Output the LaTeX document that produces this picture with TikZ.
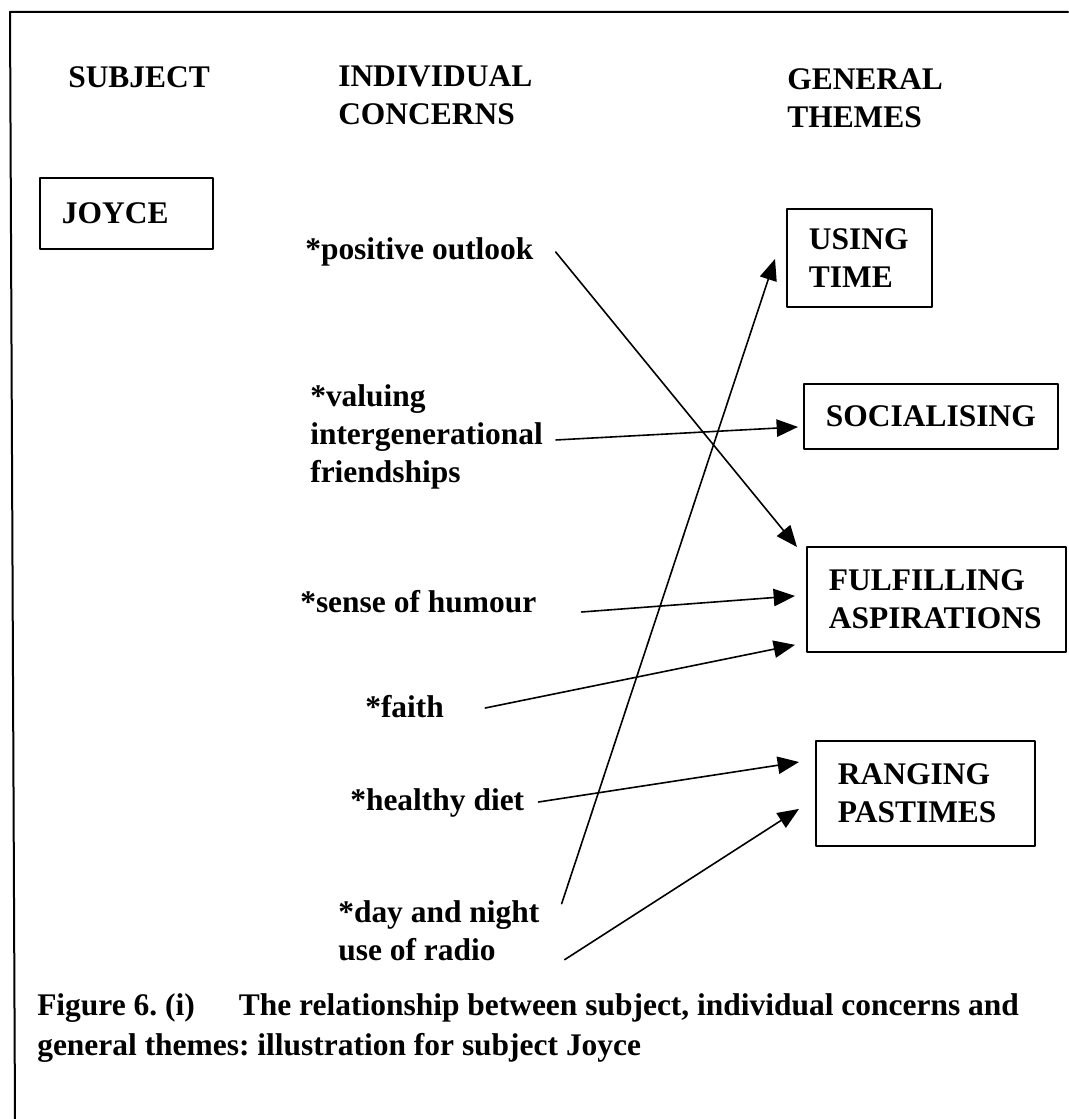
\documentclass[tikz,border=0pt]{standalone}
\usepackage{fontspec}
\setmainfont{Liberation Serif}
\usepackage{tikz}
\usetikzlibrary{arrows.meta,positioning,calc}
\frenchspacing
\newcommand{\figfont}{\fontsize{23.6}{28.5}\selectfont\bfseries}
\newcommand{\capfont}{\fontsize{23.6}{30}\selectfont\bfseries}
\tikzset{
    every picture/.style={line cap=round,line join=round},
    headtext/.style={anchor=base west,inner sep=0pt,align=left,font=\figfont},
    concerntext/.style={anchor=base west,inner sep=0pt,align=left,font=\figfont},
    captiontext/.style={anchor=base west,inner sep=0pt,align=left,font=\capfont},
    themebox/.style={draw,anchor=north west,line width=1.4pt,inner xsep=16.5pt,
      inner ysep=0pt,align=left,font=\figfont},
    linkarrow/.style={-{Triangle[length=16pt,width=13pt]},line width=1.2pt},
    framerule/.style={line width=1.5pt}
}

\begin{document}
\begin{tikzpicture}[x=0.75pt,y=-0.75pt]
  \useasboundingbox (0,0) rectangle (1068,1119);
  \coordinate (frameTR) at (1068,12);
  \coordinate (frameTL) at (10,12);
  \coordinate (frameBL) at (15,1119);
  \draw[framerule] (frameTR) -- (frameTL) -- (frameBL);

  \node[headtext] (subjhead) at (68,88) {SUBJECT};
  \node[headtext] (concernhead) at (338,125) {INDIVIDUAL\\CONCERNS};
  \node[headtext] (themehead) at (787,128) {GENERAL\\THEMES};

  \node[themebox,minimum width=129.75pt,minimum height=53.25pt,text width=96.75pt] (joyce) at (39,177) {JOYCE};
  \node[themebox,minimum width=108.75pt,minimum height=73.5pt,text width=75.75pt] (using) at (786,208) {USING\\TIME};
  \node[themebox,minimum width=190.5pt,minimum height=48.75pt,text width=157.5pt] (social) at (803,383) {SOCIALISING};
  \node[themebox,minimum width=194.25pt,minimum height=78.75pt,text width=161.25pt] (fulfil) at (806,546) {FULFILLING\\ASPIRATIONS};
  \node[themebox,minimum width=164.25pt,minimum height=78.75pt,text width=131.25pt] (ranging) at (815,740) {RANGING\\PASTIMES};

  \node[concerntext] (outlook) at (305,260) {*positive outlook};
  \node[concerntext] (friends) at (310,482) {*valuing\\intergenerational\\friendships};
  \node[concerntext] (humour) at (300,612) {*sense of humour};
  \node[concerntext] (faith) at (365,717) {*faith};
  \node[concerntext] (diet) at (350,810) {*healthy diet};
  \node[concerntext] (radio) at (338,960) {*day and night\\use of radio};

  \draw[linkarrow] ($(outlook.base east)+(22,-8)$) -- ($(fulfil.north west)+(-9,1)$);
  \draw[linkarrow] ($(friends.south east)+(13,-49)$) -- ($(social.west)+(-5,10.5)$);
  \draw[linkarrow] ($(humour.base east)+(45,0)$) -- ($(fulfil.west)+(-11,-3.5)$);
  \draw[linkarrow] ($(faith.base east)+(41,-9)$) -- ($(fulfil.south west)+(-11,-8)$);
  \draw[linkarrow] ($(diet.base east)+(14,-8)$) -- ($(ranging.north west)+(-16,22)$);
  \draw[linkarrow] ($(radio.south east)+(22,-57)$) -- ($(using.west)+(-11,1)$);
  \draw[linkarrow] ($(radio.south east)+(25,-1)$) -- ($(ranging.west)+(-16,15.5)$);

  \node[captiontext] (caption) at (37,1055) {Figure 6. (i)\hspace{33pt}The relationship between subject, individual concerns and\\general themes: illustration for subject Joyce};
\end{tikzpicture}
\end{document}
